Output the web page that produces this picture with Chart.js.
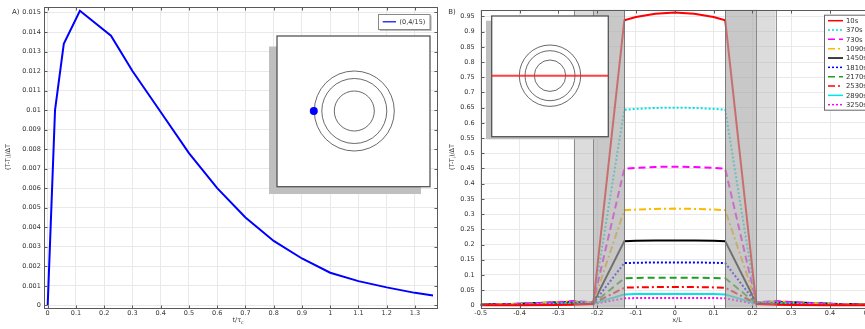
<!DOCTYPE html>
<html>
<head>
<meta charset="utf-8">
<script src="https://cdn.jsdelivr.net/npm/chart.js"></script>
<style>
html, body { margin: 0; padding: 0; background: #fff; overflow: hidden; width: 865px; height: 329px; }
#boxA { position: absolute; left: 0; top: 0; width: 440px; height: 329px; }
#boxB { position: absolute; left: 440px; top: 0; width: 436px; height: 329px; }
</style>
</head>
<body>
<div id="boxA"><canvas id="chartA" width="440" height="329"></canvas></div>
<div id="boxB"><canvas id="chartB" width="436" height="329"></canvas></div>
<script>
// A) temperatura adimensional no ponto (0,4/15) ao longo do tempo
const tempoA = [0, 0.026, 0.057, 0.114, 0.224, 0.30, 0.40, 0.50, 0.60, 0.70, 0.80, 0.90, 1.00, 1.10, 1.20, 1.30, 1.364];
const tempA = [0, 0.0100, 0.01339, 0.01509, 0.01381, 0.0120, 0.0099, 0.0078, 0.0060, 0.0045, 0.0033, 0.0024, 0.00167, 0.00124, 0.00092, 0.00064, 0.00051];
const ticksXA = [0, 0.1, 0.2, 0.3, 0.4, 0.5, 0.6, 0.7, 0.8, 0.9, 1, 1.1, 1.2, 1.3];
const ticksYA = [0, 0.001, 0.002, 0.003, 0.004, 0.005, 0.006, 0.007, 0.008, 0.009, 0.01, 0.011, 0.012, 0.013, 0.014, 0.015];

// B) perfis ao longo de x/L para varios instantes
const posB = [-0.5, -0.4, -0.3, -0.26, -0.21, -0.13, -0.1, -0.05, 0, 0.05, 0.1, 0.13, 0.21, 0.26, 0.3, 0.4, 0.5];
const rotulosB = ['10s', '370s', '730s', '1090s', '1450s', '1810s', '2170s', '2530s', '2890s', '3250s'];
const t10 = [0, 0, 0.001, 0.002, 0.004, 0.937, 0.948, 0.959, 0.963, 0.959, 0.948, 0.937, 0.004, 0.002, 0.001, 0, 0];
const t370 = [0.001, 0.002, 0.006, 0.010, 0.010, 0.643, 0.646, 0.649, 0.650, 0.649, 0.646, 0.643, 0.010, 0.010, 0.006, 0.002, 0.001];
const t730 = [0.001, 0.004, 0.010, 0.014, 0.010, 0.449, 0.452, 0.455, 0.456, 0.455, 0.452, 0.449, 0.010, 0.014, 0.010, 0.004, 0.001];
const t1090 = [0.002, 0.005, 0.011, 0.014, 0.009, 0.313, 0.315, 0.317, 0.318, 0.317, 0.315, 0.313, 0.009, 0.014, 0.011, 0.005, 0.002];
const t1450 = [0.002, 0.005, 0.010, 0.012, 0.008, 0.211, 0.212, 0.213, 0.213, 0.213, 0.212, 0.211, 0.008, 0.012, 0.010, 0.005, 0.002];
const t1810 = [0.002, 0.005, 0.009, 0.011, 0.007, 0.139, 0.140, 0.141, 0.141, 0.141, 0.140, 0.139, 0.007, 0.011, 0.009, 0.005, 0.002];
const t2170 = [0.002, 0.004, 0.008, 0.010, 0.006, 0.089, 0.090, 0.091, 0.091, 0.091, 0.090, 0.089, 0.006, 0.010, 0.008, 0.004, 0.002];
const t2530 = [0.002, 0.004, 0.007, 0.008, 0.006, 0.058, 0.059, 0.060, 0.060, 0.060, 0.059, 0.058, 0.006, 0.008, 0.007, 0.004, 0.002];
const t2890 = [0.002, 0.003, 0.005, 0.006, 0.005, 0.036, 0.037, 0.037, 0.037, 0.037, 0.037, 0.036, 0.005, 0.006, 0.005, 0.003, 0.002];
const t3250 = [0.001, 0.003, 0.004, 0.005, 0.004, 0.023, 0.024, 0.024, 0.024, 0.024, 0.024, 0.023, 0.004, 0.005, 0.004, 0.003, 0.001];
const seriesB = [t10, t370, t730, t1090, t1450, t1810, t2170, t2530, t2890, t3250];
const ticksXB = [-0.5, -0.4, -0.3, -0.2, -0.1, 0, 0.1, 0.2, 0.3, 0.4, 0.5];
const ticksYB = [0, 0.05, 0.1, 0.15, 0.2, 0.25, 0.3, 0.35, 0.4, 0.45, 0.5, 0.55, 0.6, 0.65, 0.7, 0.75, 0.8, 0.85, 0.9, 0.95];
// faixas cinza (aneis), em x/L
const faixasB = [[-0.26, -0.13], [-0.21, -0.13], [0.13, 0.26], [0.13, 0.21]];

const cores = ['#ff0000', '#00e0e0', '#ff00ff', '#ffb800', '#000000', '#0000ff', '#1f9f1f', '#ff0000', '#00e5e5', '#ff00ff'];
const tracos = [[], [2, 2], [7, 4], [7, 3, 2, 3], [], [2, 2], [7, 4], [7, 3, 2, 3], [], [2, 2]];

Chart.defaults.font.family = 'DejaVu Sans';
Chart.defaults.font.size = 6.5;
Chart.defaults.color = '#333';

const FONTE = 'DejaVu Sans';

function fmt(v) {
    return String(+v.toFixed(4));
}

// texto com subscrito: partes = [[texto, sub?], ...]
function textoRico(ctx, partes, x, y, size, girar) {
    ctx.save();
    ctx.translate(x, y);
    if (girar) ctx.rotate(-Math.PI / 2);
    ctx.textBaseline = 'middle';
    ctx.textAlign = 'left';
    ctx.fillStyle = '#333';
    let total = 0;
    partes.forEach(p => {
        ctx.font = (p[1] ? size * 0.72 : size) + 'px ' + FONTE;
        total += ctx.measureText(p[0]).width;
    });
    let cx = -total / 2;
    partes.forEach(p => {
        ctx.font = (p[1] ? size * 0.72 : size) + 'px ' + FONTE;
        ctx.fillText(p[0], cx, p[1] ? size * 0.35 : 0);
        cx += ctx.measureText(p[0]).width;
    });
    ctx.restore();
}

const moldura = {
    id: 'moldura',
    afterDraw(chart) {
        const { ctx, chartArea: a, scales: { x, y } } = chart;
        ctx.save();
        ctx.strokeStyle = '#5a5a5a';
        ctx.lineWidth = 1;
        const l = Math.round(a.left) + 0.5, r = Math.round(a.right) + 0.5;
        const t = Math.round(a.top) + 0.5, b = Math.round(a.bottom) + 0.5;
        ctx.strokeRect(l, t, r - l, b - t);
        ctx.beginPath();
        x.ticks.forEach(tk => {
            const px = Math.round(x.getPixelForValue(tk.value)) + 0.5;
            ctx.moveTo(px, b); ctx.lineTo(px, b - 3);
            ctx.moveTo(px, t); ctx.lineTo(px, t + 3);
        });
        y.ticks.forEach(tk => {
            const py = Math.round(y.getPixelForValue(tk.value)) + 0.5;
            ctx.moveTo(l, py); ctx.lineTo(l + 3, py);
            ctx.moveTo(r, py); ctx.lineTo(r - 3, py);
        });
        ctx.stroke();
        ctx.restore();
    }
};

function eixos(minX, maxX, ticksX, minY, maxY, ticksY, larguraY, padY) {
    return {
        x: {
            type: 'linear', min: minX, max: maxX,
            afterBuildTicks: s => { s.ticks = ticksX.map(v => ({ value: v })); },
            afterFit: s => { s.height = 21.3; },
            ticks: { autoSkip: false, maxRotation: 0, padding: 2, callback: fmt },
            grid: { color: '#e9e9e9', drawTicks: false },
            border: { display: false }
        },
        y: {
            type: 'linear', min: minY, max: maxY,
            afterBuildTicks: s => { s.ticks = ticksY.map(v => ({ value: v })); },
            afterFit: s => { s.width = larguraY; },
            ticks: { autoSkip: false, padding: padY, callback: fmt },
            grid: { color: '#e9e9e9', drawTicks: false },
            border: { display: false }
        }
    };
}

// ---------- Grafico A ----------
const extrasA = {
    id: 'extrasA',
    afterDraw(chart) {
        const ctx = chart.ctx;
        ctx.save();
        // legenda
        ctx.fillStyle = '#aaa';
        ctx.fillRect(379.8, 15.5, 51.7, 15.3);
        ctx.fillStyle = '#fff';
        ctx.fillRect(378.3, 14, 51.7, 15.3);
        ctx.strokeStyle = '#888';
        ctx.lineWidth = 1;
        ctx.strokeRect(378.5, 14.5, 51.5, 15);
        ctx.strokeStyle = '#0000ff';
        ctx.lineWidth = 1.2;
        ctx.beginPath(); ctx.moveTo(382.7, 21.8); ctx.lineTo(396, 21.8); ctx.stroke();
        ctx.fillStyle = '#333';
        ctx.font = '6.5px ' + FONTE;
        ctx.textBaseline = 'middle';
        ctx.fillText(chart.data.datasets[0].label, 399.5, 22);
        // esquema da geometria
        ctx.fillStyle = '#bfbfbf';
        ctx.fillRect(269, 46.5, 152, 147.5);
        ctx.fillStyle = '#fff';
        ctx.fillRect(277, 36, 153, 150.7);
        ctx.strokeStyle = '#555';
        ctx.lineWidth = 1.3;
        ctx.strokeRect(277, 36, 153, 150.7);
        ctx.strokeStyle = '#444';
        ctx.lineWidth = 0.8;
        [40, 32.5, 20].forEach(r => {
            ctx.beginPath(); ctx.arc(354.3, 111, r, 0, Math.PI * 2); ctx.stroke();
        });
        ctx.fillStyle = '#0000ff';
        ctx.beginPath(); ctx.arc(313.8, 111, 4, 0, Math.PI * 2); ctx.fill();
        ctx.restore();
        // titulos
        textoRico(ctx, [['(T-T', 0], ['i', 1], [')/ΔT', 0]], 8, 157, 6.5, true);
        textoRico(ctx, [['t/τ', 0], ['c', 1]], 238, 320.5, 6.5, false);
        ctx.save();
        ctx.fillStyle = '#333';
        ctx.font = '7px ' + FONTE;
        ctx.textBaseline = 'middle';
        ctx.fillText('A)', 12, 11.7);
        ctx.restore();
    }
};

new Chart(document.getElementById('chartA'), {
    type: 'line',
    data: {
        datasets: [{
            label: '(0,4/15)',
            data: tempoA.map((t, i) => ({ x: t, y: tempA[i] })),
            borderColor: '#0000ff',
            borderWidth: 2,
            pointRadius: 0,
            tension: 0
        }]
    },
    options: {
        responsive: false,
        animation: false,
        layout: { padding: { top: 6.7, right: 3, left: 0, bottom: 0 } },
        plugins: { legend: { display: false }, tooltip: { enabled: false } },
        scales: eixos(-0.012, 1.378, ticksXA, -0.00012, 0.01526, ticksYA, 44.3, 3.5)
    },
    plugins: [moldura, extrasA]
});

// ---------- Grafico B ----------
const faixas = {
    id: 'faixas',
    afterDatasetsDraw(chart) {
        const { ctx, chartArea: a, scales: { x } } = chart;
        ctx.save();
        ctx.fillStyle = 'rgba(170,170,170,0.41)';
        faixasB.forEach(f => {
            const x0 = x.getPixelForValue(f[0]), x1 = x.getPixelForValue(f[1]);
            ctx.fillRect(x0, a.top, x1 - x0, a.bottom - a.top);
        });
        ctx.strokeStyle = 'rgba(120,120,120,0.8)';
        ctx.lineWidth = 1;
        ctx.beginPath();
        faixasB.flat().forEach(v => {
            const px = Math.round(x.getPixelForValue(v)) + 0.5;
            ctx.moveTo(px, a.top); ctx.lineTo(px, a.bottom);
        });
        ctx.stroke();
        ctx.restore();
    }
};

const extrasB = {
    id: 'extrasB',
    afterDraw(chart) {
        const ctx = chart.ctx;
        ctx.save();
        // esquema com linha de corte
        ctx.fillStyle = '#bfbfbf';
        ctx.fillRect(46, 20.7, 120, 118.6);
        ctx.fillStyle = '#fff';
        ctx.fillRect(51.7, 16, 116.6, 120.7);
        ctx.strokeStyle = '#555';
        ctx.lineWidth = 1.3;
        ctx.strokeRect(51.7, 16, 116.6, 120.7);
        ctx.strokeStyle = '#444';
        ctx.lineWidth = 0.8;
        [30.7, 25, 15.7].forEach(r => {
            ctx.beginPath(); ctx.arc(110, 75.7, r, 0, Math.PI * 2); ctx.stroke();
        });
        ctx.strokeStyle = 'rgba(255,30,30,0.85)';
        ctx.lineWidth = 2;
        ctx.beginPath(); ctx.moveTo(51.7, 75.7); ctx.lineTo(168.3, 75.7); ctx.stroke();
        // legenda
        const lx = 384, ly = 14.7;
        ctx.fillStyle = '#fff';
        ctx.fillRect(lx, ly, 52, 95.3);
        ctx.strokeStyle = '#666';
        ctx.lineWidth = 1;
        ctx.strokeRect(lx + 0.5, ly + 0.5, 52, 95);
        ctx.font = '6.8px ' + FONTE;
        ctx.textBaseline = 'middle';
        chart.data.datasets.forEach((ds, i) => {
            const yy = ly + 6 + i * 9.33;
            ctx.strokeStyle = ds.borderColor;
            ctx.lineWidth = 1.5;
            ctx.setLineDash(ds.borderDash);
            ctx.beginPath(); ctx.moveTo(lx + 4, yy); ctx.lineTo(lx + 19, yy); ctx.stroke();
            ctx.setLineDash([]);
            ctx.fillStyle = '#333';
            ctx.fillText(ds.label, lx + 22, yy + 0.5);
        });
        ctx.restore();
        textoRico(ctx, [['(T-T', 0], ['i', 1], [')/ΔT', 0]], 12.5, 157, 6.5, true);
        textoRico(ctx, [['x/L', 0]], 237, 320.5, 6.5, false);
        ctx.save();
        ctx.fillStyle = '#333';
        ctx.font = '7px ' + FONTE;
        ctx.textBaseline = 'middle';
        ctx.fillText('B)', 8.3, 11.7);
        ctx.restore();
    }
};

new Chart(document.getElementById('chartB'), {
    type: 'line',
    data: {
        datasets: seriesB.map((serie, k) => ({
            label: rotulosB[k],
            data: posB.map((p, i) => ({ x: p, y: serie[i] })),
            borderColor: cores[k],
            borderDash: tracos[k],
            borderWidth: 2,
            borderCapStyle: 'butt',
            pointRadius: 0,
            tension: 0
        }))
    },
    options: {
        responsive: false,
        animation: false,
        layout: { padding: { top: 6.7, right: 5.3, left: 0, bottom: 0 } },
        plugins: { legend: { display: false }, tooltip: { enabled: false } },
        scales: eixos(-0.5, 0.5, ticksXB, -0.0078, 0.9714, ticksYB, 40.7, 6)
    },
    plugins: [faixas, moldura, extrasB]
});
</script>
</body>
</html>
